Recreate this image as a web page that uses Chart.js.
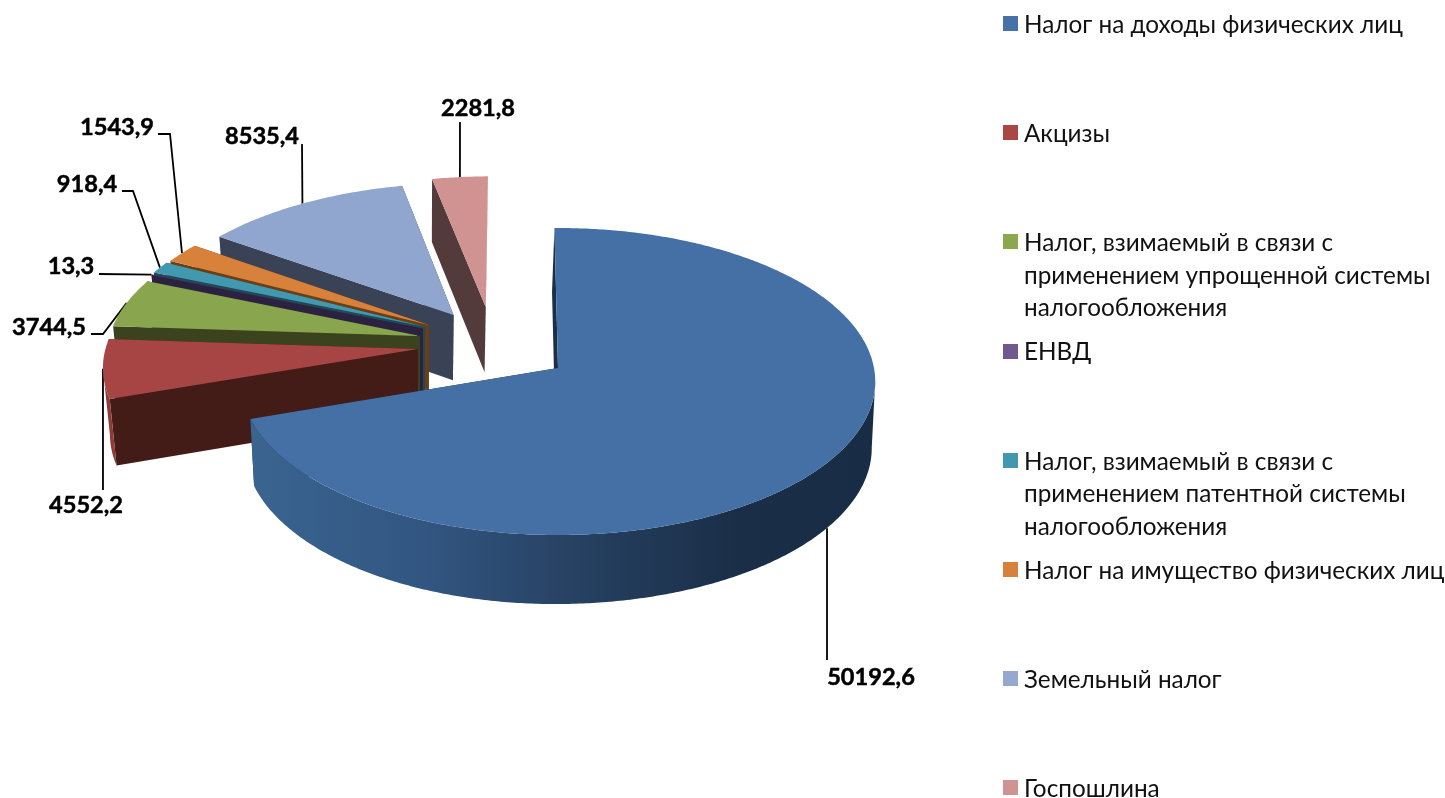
<!DOCTYPE html>
<html>
<head>
<meta charset="utf-8">
<title>Налоговые доходы</title>
<script src="https://cdn.jsdelivr.net/npm/chart.js@4"></script>
<style>
  html, body { margin: 0; padding: 0; background: #fff; }
  canvas { display: block; }
</style>
</head>
<body>
<canvas id="pie3d" width="1445" height="798"></canvas>
<script>
// Chart data
const categories = [
    'Налог на доходы физических лиц',
    'Акцизы',
    'Налог, взимаемый в связи с применением упрощенной системы налогообложения',
    'ЕНВД',
    'Налог, взимаемый в связи с применением патентной системы налогообложения',
    'Налог на имущество физических лиц',
    'Земельный налог',
    'Госпошлина'
];
const values = [50192.6, 4552.2, 3744.5, 13.3, 918.4, 1543.9, 8535.4, 2281.8];
const legendLines = [
    ['Налог на доходы физических лиц'],
    ['Акцизы'],
    ['Налог, взимаемый в связи с', 'применением упрощенной системы', 'налогообложения'],
    ['ЕНВД'],
    ['Налог, взимаемый в связи с', 'применением патентной системы', 'налогообложения'],
    ['Налог на имущество физических лиц'],
    ['Земельный налог'],
    ['Госпошлина']
];

// Colours
const topColors = ['#4570a6', '#a64543', '#89a64e', '#71588f', '#4298af', '#d8813b', '#91a6cf', '#d09392'];
const edgeColors = ['#1b2f48', '#431c18', '#3a421e', '#2b2140', '#1f4a55', '#6b3e14', '#3a4356', '#543b3b'];
const rimColors = ['#264062', '#8f3a38', '#6f8a3e', '#5a4673', '#357a8c', '#b06a30', '#7488aa', '#a87776'];
const legendColors = ['#4672a8', '#aa4644', '#8ba84f', '#71588f', '#4298af', '#d8813b', '#94a8d0', '#d19392'];

// How far each slice is pulled out of the pie, in pie radii (sideways, back-to-front)
const pullX = [0, -0.448, -0.445, -0.437, -0.431, -0.419, -0.341, -0.237];
const pullY = [0, -0.126, -0.214, -0.263, -0.277, -0.29, -0.359, -0.415];

// Leader lines: bend points after the slice, then where the text goes
const leaderBends = [
    [[827, 660]],
    [[103, 490]],
    [[103, 334], [91, 334]],
    [[99, 274]],
    [[133, 191], [122, 191]],
    [[170, 134], [158, 134]],
    [[302, 144]],
    [[460, 122]]
];
const labelSpots = [[871, 677], [86, 505], [49, 327], [71, 266], [87, 184], [117, 127], [262, 136], [478, 108]];

// Look of the tilted pie
const tilt = 0.482;      // how flat the circle is
const perspective = 0.088; // front is bigger than back
const depth = 63;        // thickness in px
const drawOrder = [7, 6, 5, 4, 3, 2, 1, 0]; // back to front

const labelFont = 'bold 23.6px Lato, "Noto Sans", sans-serif';
const legendFont = '24.3px Lato, "Noto Sans", sans-serif';

// Turn a point on the unit circle into a screen point
function project(arc, i, u, v) {
    const x = u + pullX[i];
    const y = v + pullY[i];
    const s = 1 / (1 - perspective * y);
    return { x: arc.x + arc.outerRadius * x * s, y: arc.y + arc.outerRadius * tilt * y * s };
}

// Same point on the underside of the pie
function lower(p) {
    let dx = (420 - p.x) * 0.022;
    if (p.x > 420) {
        dx = -(Math.min(p.x - 420, 140) * 0.018 + Math.max(0, p.x - 560) * 0.003);
    }
    return { x: p.x + dx, y: p.y + depth + (p.y - 180) * 0.017 };
}

function rimPoints(arc, i) {
    const pts = [];
    const steps = Math.max(2, Math.ceil((arc.endAngle - arc.startAngle) / 0.01));
    for (let n = 0; n <= steps; n++) {
        const a = arc.startAngle + (arc.endAngle - arc.startAngle) * n / steps;
        pts.push(project(arc, i, Math.cos(a), Math.sin(a)));
    }
    return pts;
}

function fillPoly(ctx, pts, color) {
    ctx.beginPath();
    pts.forEach((p, n) => n ? ctx.lineTo(p.x, p.y) : ctx.moveTo(p.x, p.y));
    ctx.closePath();
    ctx.fillStyle = color;
    ctx.fill();
}

// Outer wall, only the part of the rim running right to left faces us
function fillRim(ctx, rim, color) {
    const front = rim.filter((p, n) => n + 1 < rim.length ? rim[n + 1].x < p.x : rim[n - 1].x > p.x);
    if (front.length > 1) {
        fillPoly(ctx, front.concat(front.map(lower).reverse()), color);
    }
}

function drawSlice(ctx, arc, i) {
    const rim = rimPoints(arc, i);
    const apex = project(arc, i, 0, 0);
    const first = rim[0];
    const last = rim[rim.length - 1];

    // cut faces first, the wall facing us covers them
    fillPoly(ctx, [apex, last, lower(last), lower(apex)], edgeColors[i]);
    fillPoly(ctx, [apex, first, lower(first), lower(apex)], edgeColors[i]);

    // big slice gets the dark sweep
    let rimFill = rimColors[i];
    if (i === 0) {
        rimFill = ctx.createLinearGradient(arc.x - arc.outerRadius, 0, arc.x + arc.outerRadius, 0);
        rimFill.addColorStop(0, '#3b6591');
        rimFill.addColorStop(0.3, '#315580');
        rimFill.addColorStop(0.5, '#284365');
        rimFill.addColorStop(0.78, '#1a2e47');
        rimFill.addColorStop(1, '#192c45');
    }
    fillRim(ctx, rim, rimFill);

    // top
    fillPoly(ctx, [apex].concat(rim), topColors[i]);
}

function drawLeader(ctx, arc, i) {
    const mid = (arc.startAngle + arc.endAngle) / 2;
    const from = project(arc, i, Math.cos(mid), Math.sin(mid));
    if (Math.sin(mid) > 0.3) {
        // front of the pie: straight line down from the bottom edge
        from.y = lower(from).y;
        from.x = leaderBends[i][0][0];
    }
    ctx.beginPath();
    ctx.moveTo(from.x, from.y);
    leaderBends[i].forEach(p => ctx.lineTo(p[0], p[1]));
    ctx.lineWidth = 1.8;
    ctx.strokeStyle = '#000';
    ctx.stroke();

    const text = String(values[i]).replace('.', ',');
    ctx.font = labelFont;
    ctx.fillStyle = '#000';
    ctx.textAlign = 'center';
    ctx.textBaseline = 'middle';
    ctx.fillText(text, labelSpots[i][0], labelSpots[i][1]);
    ctx.lineWidth = 0.5; // a bit heavier, reference bold is thick
    ctx.strokeText(text, labelSpots[i][0], labelSpots[i][1]);
}

function drawLegend(ctx) {
    ctx.font = legendFont;
    ctx.textAlign = 'left';
    ctx.textBaseline = 'middle';
    legendLines.forEach((lines, i) => {
        const y = 24 + 109.2 * i;
        ctx.fillStyle = legendColors[i];
        ctx.fillRect(1003, Math.round(y - 8), 15, 15);
        ctx.fillStyle = '#111';
        lines.forEach((line, n) => ctx.fillText(line, 1024, y + 1 + n * 32.5));
    });
}

// Takes over the drawing of the arcs, angles still come from the pie controller
const pie3dPlugin = {
    id: 'pie3d',
    beforeDatasetsDraw(chart) {
        const ctx = chart.ctx;
        const arcs = chart.getDatasetMeta(0).data.map(a =>
            a.getProps(['x', 'y', 'startAngle', 'endAngle', 'outerRadius'], true));
        ctx.save();
        arcs.forEach((arc, i) => drawLeader(ctx, arc, i));
        drawOrder.forEach(i => drawSlice(ctx, arcs[i], i));
        drawLegend(ctx);
        ctx.restore();
        return false;
    }
};

new Chart(document.getElementById('pie3d').getContext('2d'), {
    type: 'pie',
    data: {
        labels: categories,
        datasets: [{ data: values, backgroundColor: topColors, borderWidth: 0 }]
    },
    options: {
        responsive: false,
        animation: false,
        rotation: -0.7,
        layout: { padding: { left: 242, right: 571, top: 52, bottom: 114 } },
        plugins: { legend: { display: false }, tooltip: { enabled: false } }
    },
    plugins: [pie3dPlugin]
});
</script>
</body>
</html>
